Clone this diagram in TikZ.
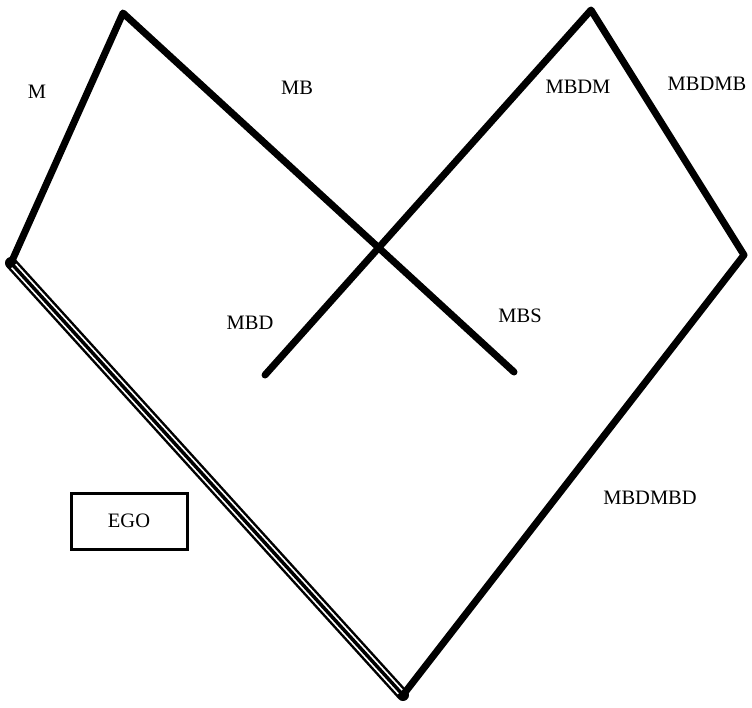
\documentclass[tikz,border=0pt]{standalone}
\usepackage{fontspec}
\setmainfont{Liberation Serif}
\begin{document}
\begin{tikzpicture}[x=1pt,y=-1pt,
  edge/.style={line width=7pt,line cap=round,line join=round,black},
  lbl/.style={font=\fontsize{20.5}{24}\selectfont,inner sep=0pt},
  egobox/.style={draw,line width=3pt,minimum width=116pt,minimum height=56pt,font=\fontsize{20.5}{24}\selectfont}]
\useasboundingbox (0,0) rectangle (752,707);
\coordinate (tl) at (123,13);
\coordinate (lc) at (11,263);
\coordinate (bt) at (403,695);
\coordinate (rc) at (744,255);
\coordinate (tr) at (591,10);
\coordinate (mbs) at (514,372);
\coordinate (mbd) at (265,375);
% triple line
\draw[line width=12pt,line cap=round] (lc) -- (bt);
\draw[line width=7pt,white,shorten <=4pt,shorten >=4pt] (lc) -- (bt);
\draw[line width=3.5pt,shorten <=3pt,shorten >=3pt] (lc) -- (bt);
\draw[edge] (mbs) -- (tl) -- (lc);
\draw[edge] (bt) -- (rc) -- (tr) -- (mbd);
\node[lbl] (m) at (37,92) {M};
\node[lbl] (mb) at (297,88) {MB};
\node[lbl] (mbdm) at (578,87) {MBDM};
\node[lbl] (mbdmb) at (707,84) {MBDMB};
\node[lbl] (mbdl) at (250,323) {MBD};
\node[lbl] (mbsl) at (520,316) {MBS};
\node[lbl] (mbdmbd) at (650,498) {MBDMBD};
\node[egobox] (ego) at (129,521) {EGO};
\end{tikzpicture}
\end{document}
